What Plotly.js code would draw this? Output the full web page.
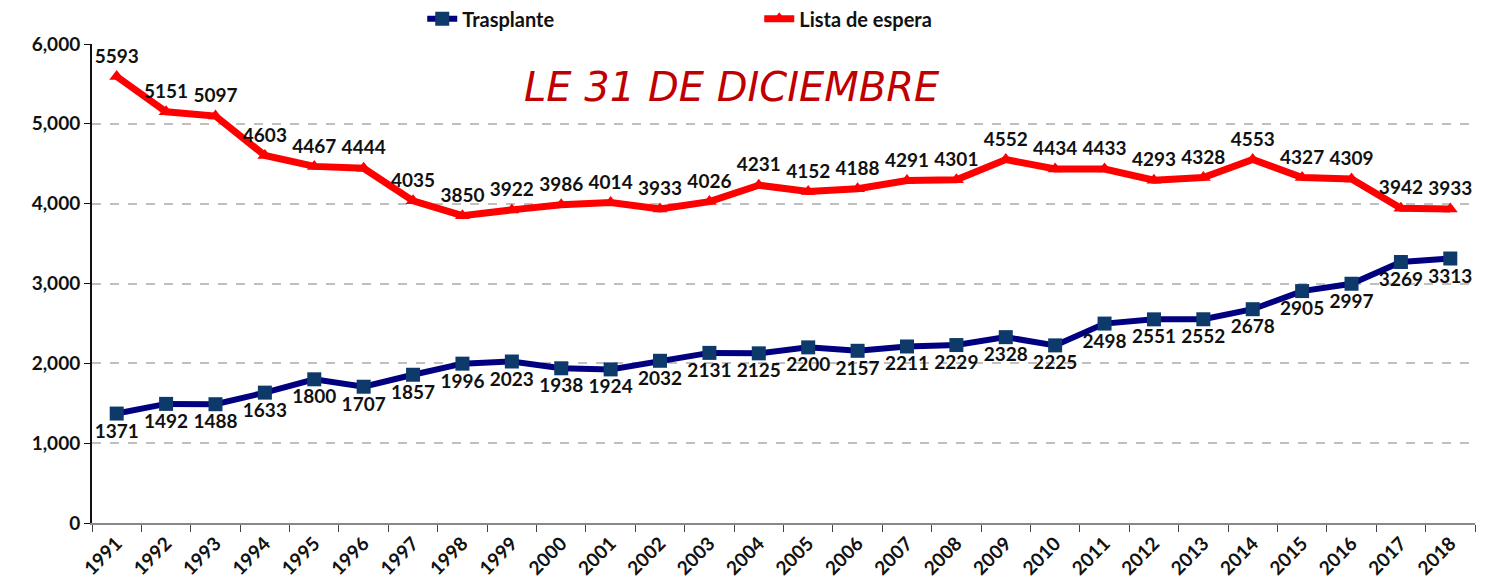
<!DOCTYPE html>
<html>
<head>
<meta charset="utf-8">
<script src="https://cdn.plot.ly/plotly-3.0.1.min.js"></script>
<style>
  html, body { margin: 0; padding: 0; background: #fff; }
  #chart { width: 1492px; height: 588px; }
</style>
</head>
<body>
<div id="chart"></div>
<script>
const years = ['1991', '1992', '1993', '1994', '1995', '1996', '1997', '1998', '1999', '2000',
  '2001', '2002', '2003', '2004', '2005', '2006', '2007', '2008', '2009', '2010',
  '2011', '2012', '2013', '2014', '2015', '2016', '2017', '2018']
const trasplante = [1371, 1492, 1488, 1633, 1800, 1707, 1857, 1996, 2023, 1938,
  1924, 2032, 2131, 2125, 2200, 2157, 2211, 2229, 2328, 2225,
  2498, 2551, 2552, 2678, 2905, 2997, 3269, 3313]
const listaEspera = [5593, 5151, 5097, 4603, 4467, 4444, 4035, 3850, 3922, 3986,
  4014, 3933, 4026, 4231, 4152, 4188, 4291, 4301, 4552, 4434,
  4433, 4293, 4328, 4553, 4327, 4309, 3942, 3933]

const labelFont = {family: 'Lato, sans-serif', size: 19, color: '#111', weight: 'bold'}

const trasplanteTrace = {
  x: years,
  y: trasplante,
  name: 'Trasplante',
  type: 'scatter',
  mode: 'lines+markers+text',
  line: {color: '#000080', width: 6},
  marker: {symbol: 'square', size: 14, color: '#0d3a6b'},
  text: trasplante.map(String),
  textposition: 'bottom center',
  textfont: labelFont,
  cliponaxis: false,
}

const listaTrace = {
  x: years,
  y: listaEspera,
  name: 'Lista de espera',
  type: 'scatter',
  mode: 'lines+markers+text',
  line: {color: '#ff0000', width: 7},
  marker: {symbol: 'triangle-up', size: 13, color: '#ff0000'},
  text: listaEspera.map(String),
  textposition: 'top center',
  textfont: labelFont,
  cliponaxis: false,
}

const layout = {
  width: 1492,
  height: 588,
  margin: {l: 92, r: 17, t: 44, b: 65},
  paper_bgcolor: '#fff',
  plot_bgcolor: '#fff',
  font: {family: 'Lato, sans-serif', color: '#111'},
  showlegend: true,
  legend: {
    orientation: 'h',
    xref: 'container',
    yref: 'container',
    x: 0.283,
    y: 0.968,
    xanchor: 'left',
    yanchor: 'middle',
    entrywidth: 292,
    entrywidthmode: 'pixels',
    font: {family: 'Lato, sans-serif', size: 20, color: '#111', weight: 'bold'},
  },
  xaxis: {
    type: 'category',
    range: [-0.5, 27.5],
    tickangle: -45,
    tickfont: {family: 'Lato, sans-serif', size: 19, color: '#111', weight: 'bold'},
    showline: true,
    linecolor: '#888',
    linewidth: 2,
    ticks: 'outside',
    tickson: 'boundaries',
    ticklen: 7,
    tickcolor: '#444',
    showgrid: false,
  },
  yaxis: {
    range: [0, 6000],
    dtick: 1000,
    tickformat: ',',
    tickfont: {family: 'Lato, sans-serif', size: 19, color: '#111', weight: 'bold'},
    showline: true,
    linecolor: '#111',
    linewidth: 2,
    ticks: 'outside',
    ticklen: 6,
    tickcolor: '#111',
    showgrid: true,
    gridcolor: '#c0c0c0',
    gridwidth: 2,
    griddash: 'dash',
    zeroline: false,
  },
  annotations: [{
    text: 'LE 31 DE DICIEMBRE',
    xref: 'paper',
    yref: 'paper',
    x: 0.463,
    y: 0.91,
    xanchor: 'center',
    yanchor: 'middle',
    showarrow: false,
    font: {family: '"Comic Sans MS", "DejaVu Sans", sans-serif', size: 40, color: '#c00000', style: 'italic'},
  }],
}

Plotly.newPlot('chart', [trasplanteTrace, listaTrace], layout, {displayModeBar: false})
</script>
</body>
</html>
